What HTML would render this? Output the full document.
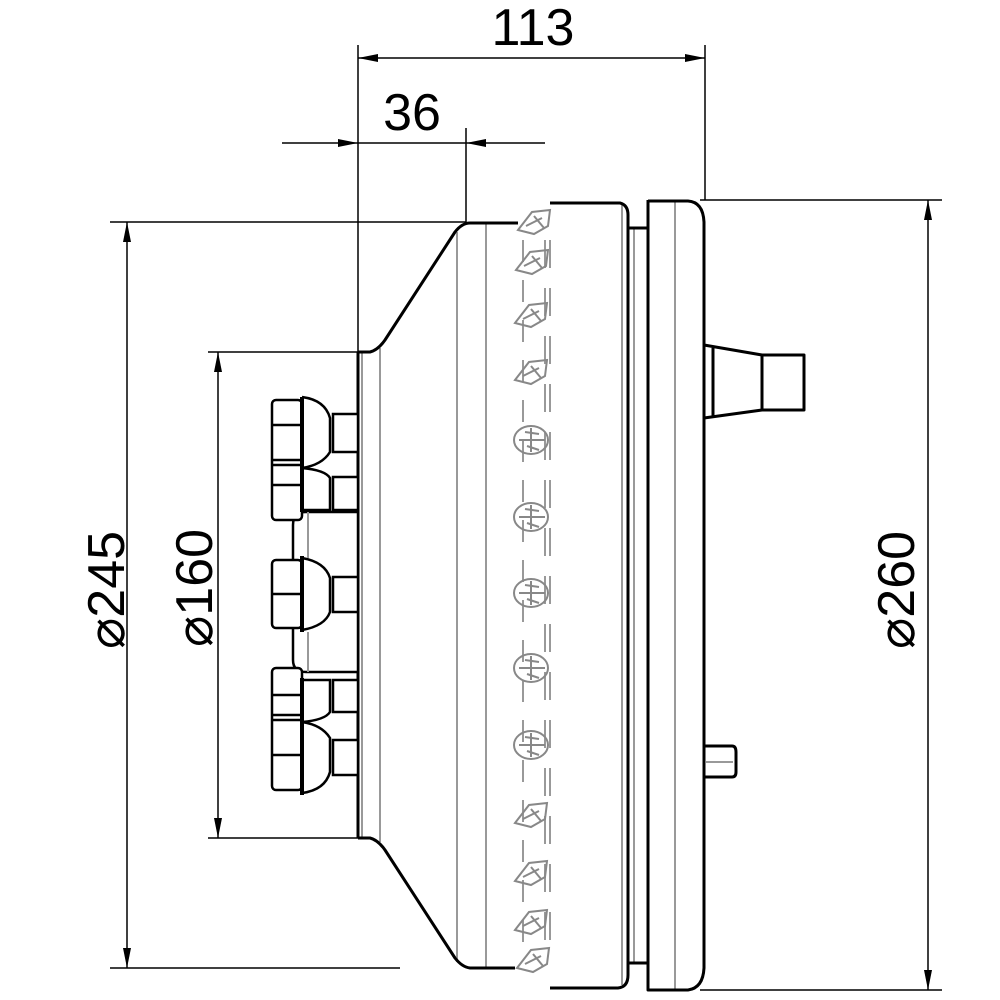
<!DOCTYPE html>
<html><head><style>html,body{margin:0;padding:0;background:#fff}svg{display:block}</style></head>
<body>
<svg width="1000" height="1000" viewBox="0 0 1000 1000" xmlns="http://www.w3.org/2000/svg">
<defs>
<marker id="a" viewBox="0 0 20 8" refX="20" refY="4" markerWidth="20" markerHeight="8" markerUnits="userSpaceOnUse" orient="auto-start-reverse"><path d="M0,0 L20,4 L0,8 z" fill="#000"/></marker>
<g id="nz" fill="none" stroke="#888" stroke-width="2">
<ellipse cx="0" cy="0" rx="17" ry="14"/>
<path d="M-12,0 H14 M0,-12 V12 M-6,-8 L8,-6 M-4,6 L8,10"/>
</g>
<g id="nzs" fill="none" stroke="#888" stroke-width="2">
<path d="M-16,8 L-2,-10 L16,-12 L14,4 L0,12 Z M-8,4 L8,-4 M0,-6 L10,6"/>
</g>
</defs>
<g fill="none" stroke="#000" stroke-width="1.5">
<line x1="358" y1="45" x2="358" y2="352"/>
<line x1="705" y1="45" x2="705" y2="200"/>
<line x1="358" y1="58" x2="705" y2="58" marker-start="url(#a)" marker-end="url(#a)"/>
<line x1="466" y1="128" x2="466" y2="222"/>
<line x1="282" y1="143" x2="358" y2="143" marker-end="url(#a)"/>
<line x1="545" y1="143" x2="466" y2="143" marker-end="url(#a)"/>
<line x1="358" y1="143" x2="466" y2="143"/>
<line x1="110" y1="222" x2="466" y2="222"/>
<line x1="110" y1="968" x2="400" y2="968"/>
<line x1="127" y1="222" x2="127" y2="968" marker-start="url(#a)" marker-end="url(#a)"/>
<line x1="208" y1="352" x2="358" y2="352"/>
<line x1="208" y1="838" x2="358" y2="838"/>
<line x1="218" y1="352" x2="218" y2="838" marker-start="url(#a)" marker-end="url(#a)"/>
<line x1="700" y1="200" x2="942" y2="200"/>
<line x1="700" y1="990" x2="942" y2="990"/>
<line x1="928" y1="200" x2="928" y2="990" marker-start="url(#a)" marker-end="url(#a)"/>
</g>
<g font-family="Liberation Sans, sans-serif" font-size="52" fill="#000">
<text x="533" y="45" text-anchor="middle">113</text>
<text x="412" y="130" text-anchor="middle">36</text>
<text transform="translate(124,590) rotate(-90)" text-anchor="middle">⌀245</text>
<text transform="translate(212,588) rotate(-90)" text-anchor="middle">⌀160</text>
<text transform="translate(914,590) rotate(-90)" text-anchor="middle">⌀260</text>
</g>
<g stroke="#999" stroke-width="2" fill="none">
<line x1="362" y1="352" x2="362" y2="838"/>
<line x1="380" y1="348" x2="380" y2="842"/>
<line x1="457" y1="232" x2="457" y2="962"/>
<line x1="486" y1="223" x2="486" y2="968"/>
<line x1="622" y1="205" x2="622" y2="985"/>
<line x1="634" y1="228" x2="634" y2="963"/>
<line x1="675" y1="201" x2="675" y2="990"/>
<line x1="523" y1="240" x2="523" y2="950" stroke-dasharray="22 18"/>
<line x1="545" y1="240" x2="545" y2="950" stroke-dasharray="28 20"/>
<line x1="550" y1="240" x2="550" y2="950" stroke-dasharray="28 20"/>
</g>
<g stroke="#000" stroke-width="3" fill="none" stroke-linejoin="round">
<line x1="358" y1="352" x2="358" y2="838"/>
<path d="M358,352 H370 Q378,350 385,340 L455,232 Q462,223 470,223 H518"/>
<path d="M358,838 H370 Q378,840 385,850 L455,958 Q462,967 470,968 H515"/>
<path d="M550,203 H620 Q628,205 628,215 V975 Q628,987 618,988 H550"/>
<path d="M628,228 H648 M628,963 H648"/>
<path d="M648,200 V990 H688 Q703,988 704,968 V222 Q703,202 688,201 H648"/>
<path d="M704,345 L762,355 H804 V410 H762 L704,418"/>
<line x1="713" y1="348" x2="713" y2="416"/>
<line x1="762" y1="355" x2="762" y2="410"/>
<path d="M704,746 H732 Q736,746 736,752 V772 Q736,777 732,777 H704"/>
</g>
<line x1="706" y1="762" x2="733" y2="762" stroke="#999" stroke-width="2"/>
<use href="#nzs" x="534" y="222"/>
<use href="#nzs" x="532" y="262"/>
<use href="#nzs" x="531" y="315"/>
<use href="#nzs" x="531" y="372"/>
<use href="#nz" x="531" y="440"/>
<use href="#nz" x="531" y="517"/>
<use href="#nz" x="531" y="593"/>
<use href="#nz" x="531" y="668"/>
<use href="#nz" x="531" y="745"/>
<use href="#nzs" x="531" y="815"/>
<use href="#nzs" x="531" y="873"/>
<use href="#nzs" x="531" y="922"/>
<use href="#nzs" x="533" y="960"/>
<g stroke="#000" stroke-width="2.5" fill="#fff">
<path d="M293,525 Q293,512 306,512 H358 V672 H306 Q293,672 293,660 Z"/>
<rect x="272" y="400" width="30" height="120" rx="4"/>
<path d="M272,425 H302 M272,460 H302 M272,465 H302 M272,485 H302"/>
<path d="M302,397 Q325,400 330,418 L330,452 Q322,465 302,468"/>
<path d="M302,468 Q325,470 330,478 V510 H302"/>
<rect x="333" y="414" width="25" height="38"/>
<rect x="333" y="477" width="25" height="33"/>
<line x1="302" y1="397" x2="302" y2="512" stroke-width="4"/>
<rect x="272" y="560" width="30" height="68" rx="4"/>
<line x1="272" y1="594" x2="302" y2="594"/>
<path d="M302,558 Q325,562 330,578 V612 Q325,626 302,630"/>
<rect x="333" y="577" width="25" height="35"/>
<line x1="302" y1="556" x2="302" y2="632" stroke-width="4"/>
<rect x="272" y="668" width="30" height="122" rx="4"/>
<path d="M272,695 H302 M272,715 H302 M272,720 H302 M272,755 H302"/>
<path d="M302,680 H330 V712 Q325,720 302,722"/>
<path d="M302,722 Q322,725 330,738 V772 Q325,790 302,793"/>
<rect x="333" y="680" width="25" height="32"/>
<rect x="333" y="740" width="25" height="35"/>
<line x1="302" y1="678" x2="302" y2="795" stroke-width="4"/>
</g>
<g stroke="#999" stroke-width="2"><line x1="308" y1="512" x2="308" y2="558"/><line x1="308" y1="632" x2="308" y2="672"/></g>
</svg>
</body></html>
